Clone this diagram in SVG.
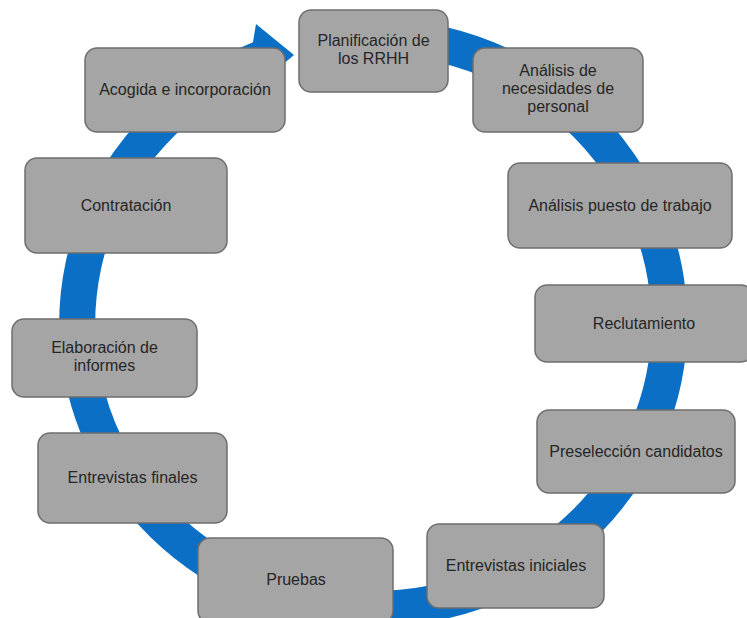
<svg xmlns="http://www.w3.org/2000/svg" width="747" height="618" viewBox="0 0 747 618">
  <style>
    .box { fill: #A5A5A5; stroke: #6E6E6E; stroke-width: 1.5; }
    .lbl { font-family: "Liberation Sans", Arial, sans-serif; font-size: 16px; fill: #262626; text-anchor: middle; }
    .ring { fill: none; stroke: #0B6FC6; stroke-width: 36; }
    .head { fill: #0B6FC6; }
  </style>
  <rect width="747" height="618" fill="#FFFFFF"/>
  <g id="connectors">
    <path class="ring" d="M 373 37 A 296 286 0 1 1 262 58"/>
    <polygon class="head" points="256,24 294,55 262,82 250,60"/>
  </g>
  <g id="n1">
    <rect class="box" x="299" y="10" width="149" height="82" rx="12"/>
    <text class="lbl" x="373.5" y="46">Planificación de</text>
    <text class="lbl" x="373.5" y="64">los RRHH</text>
  </g>
  <g id="n2">
    <rect class="box" x="473" y="48" width="170" height="84" rx="12"/>
    <text class="lbl" x="558" y="76">Análisis de</text>
    <text class="lbl" x="558" y="94">necesidades de</text>
    <text class="lbl" x="558" y="112">personal</text>
  </g>
  <g id="n3">
    <rect class="box" x="508" y="163" width="224" height="85" rx="12"/>
    <text class="lbl" x="620" y="211">Análisis puesto de trabajo</text>
  </g>
  <g id="n4">
    <rect class="box" x="535" y="285" width="218" height="77" rx="12"/>
    <text class="lbl" x="644" y="329">Reclutamiento</text>
  </g>
  <g id="n5">
    <rect class="box" x="537" y="410" width="198" height="83" rx="12"/>
    <text class="lbl" x="636" y="457">Preselección candidatos</text>
  </g>
  <g id="n6">
    <rect class="box" x="427" y="524" width="177" height="84" rx="12"/>
    <text class="lbl" x="516" y="571">Entrevistas iniciales</text>
  </g>
  <g id="n7">
    <rect class="box" x="198" y="538" width="195" height="85" rx="12"/>
    <text class="lbl" x="296" y="585">Pruebas</text>
  </g>
  <g id="n8">
    <rect class="box" x="38" y="433" width="189" height="90" rx="12"/>
    <text class="lbl" x="132.5" y="483">Entrevistas finales</text>
  </g>
  <g id="n9">
    <rect class="box" x="12" y="319" width="185" height="78" rx="12"/>
    <text class="lbl" x="104.5" y="353">Elaboración de</text>
    <text class="lbl" x="104.5" y="371">informes</text>
  </g>
  <g id="n10">
    <rect class="box" x="25" y="158" width="202" height="95" rx="12"/>
    <text class="lbl" x="126" y="211">Contratación</text>
  </g>
  <g id="n11">
    <rect class="box" x="85" y="48" width="200" height="84" rx="12"/>
    <text class="lbl" x="185" y="95">Acogida e incorporación</text>
  </g>
</svg>
